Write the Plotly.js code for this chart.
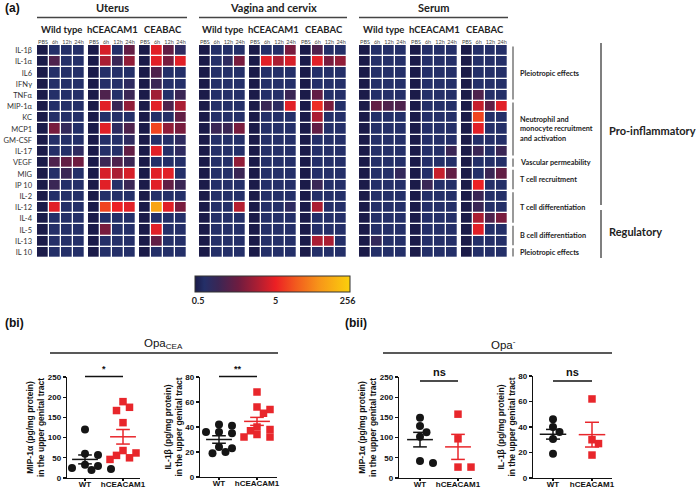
<!DOCTYPE html>
<html><head><meta charset="utf-8">
<script src="https://cdn.plot.ly/plotly-3.0.1.min.js"></script>
<style>html,body{margin:0;padding:0;background:#fff}#plot{width:696px;height:490px}</style>
</head><body><div id="plot"></div>
<script>
// ---------------- DATA ----------------
const cytokines = ['IL-1β','IL-1α','IL6','IFNγ','TNFα','MIP-1α','KC','MCP1','GM-CSF','IL-17','VEGF','MIG','IP 10','IL-2','IL-12','IL-4','IL-5','IL-13','IL 10'];
const timepoints = ['PBS','6h','12h','24h'];
const tissues = ['Uterus','Vagina and cervix','Serum'];
const genotypes = ['Wild type','hCEACAM1','CEABAC'];
const colorbarTickText = ['0.5','5','256'];

// relative intensity levels (position on the colour bar, 0..1) per cytokine row x timepoint
const uterusWT = [[0,.06,.06,.06],[0,.2,.06,.06],[0,.06,.06,.06],[0,.06,.06,.06],[0,.06,.06,.06],[0,.06,.06,.06],[0,.06,.06,.06],[0,.3,.12,.06],[0,.06,.06,.06],[0,.06,.06,.1],[0,.2,.25,.28],[0,.06,.15,.06],[0,.15,.06,.06],[0,.06,.06,.06],[0,.5,.06,.06],[0,.06,.06,.06],[0,.06,.06,.06],[0,.06,.06,.06],[0,.06,.06,.06]];
const uterusHC = [[0,.48,.06,.25],[0,.4,.15,.35],[0,.06,.06,.06],[0,.06,.06,.1],[0,.2,.06,.15],[0,.5,.15,.35],[0,.06,.06,.06],[0,.5,.1,.2],[0,.06,.06,.1],[0,.06,.06,.25],[0,.15,.2,.15],[0,.48,.4,.48],[0,.5,.06,.15],[0,.06,.06,.06],[0,.6,.52,.5],[0,.06,.06,.06],[0,.3,.06,.06],[0,.06,.06,.06],[0,.06,.06,.06]];
const uterusCB = [[0,.5,.25,.1],[0,.5,.3,.5],[0,.2,.06,.06],[0,.15,.06,.06],[0,.38,.06,.15],[0,.5,.2,.4],[0,.06,.06,.25],[0,.6,.35,.3],[0,.06,.06,.1],[0,.5,.06,.1],[0,.06,.06,.06],[0,.5,.5,.06],[0,.5,.25,.15],[0,.06,.06,.06],[0,.85,.5,.3],[0,.06,.06,.06],[0,.5,.06,.06],[0,.25,.06,.06],[0,.06,.06,.06]];
const vaginaWT = [[0,.06,.06,.06],[0,.06,.1,.3],[0,.06,.06,.06],[0,.06,.06,.06],[0,.06,.06,.06],[0,.06,.06,.06],[0,.06,.06,.06],[0,.15,.15,.3],[0,.06,.06,.06],[0,.06,.06,.06],[0,.06,.06,.35],[0,.06,.06,.15],[0,.06,.06,.06],[0,.06,.06,.06],[0,.06,.06,.42],[0,.06,.06,.06],[0,.06,.06,.06],[0,.06,.06,.06],[0,.06,.06,.06]];
const vaginaHC = [[0,.06,.06,.3],[0,.5,.4,.48],[0,.06,.06,.06],[0,.06,.06,.06],[0,.06,.06,.15],[0,.15,.1,.5],[0,.06,.06,.06],[0,.06,.06,.06],[0,.06,.06,.06],[0,.06,.06,.06],[0,.06,.06,.06],[0,.06,.06,.06],[0,.06,.06,.06],[0,.06,.06,.06],[0,.06,.06,.1],[0,.06,.06,.06],[0,.06,.06,.06],[0,.06,.06,.06],[0,.06,.06,.06]];
const vaginaCB = [[0,.2,.06,.06],[0,.5,.3,.35],[0,.06,.06,.06],[0,.06,.06,.06],[0,.25,.06,.06],[0,.55,.3,.06],[0,.4,.06,.06],[0,.25,.06,.06],[0,.06,.06,.06],[0,.06,.06,.06],[0,.06,.06,.06],[0,.06,.06,.06],[0,.15,.06,.06],[0,.06,.06,.06],[0,.4,.06,.06],[0,.06,.06,.06],[0,.06,.06,.06],[0,.4,.4,.06],[0,.06,.06,.06]];
const serumWT = [[0,.06,.06,.06],[0,.06,.06,.06],[0,.06,.06,.06],[0,.06,.06,.06],[0,.06,.06,.06],[0,.25,.2,.2],[0,.06,.06,.06],[0,.06,.06,.06],[0,.06,.06,.06],[0,.06,.06,.06],[0,.06,.06,.06],[0,.06,.06,.12],[0,.06,.06,.06],[0,.06,.06,.06],[0,.06,.06,.06],[0,.06,.06,.06],[0,.06,.06,.06],[0,.12,.06,.06],[0,.06,.06,.06]];
const serumHC = [[0,.06,.06,.06],[0,.06,.06,.06],[0,.06,.06,.06],[0,.06,.06,.06],[0,.06,.06,.06],[0,.06,.06,.06],[0,.06,.06,.06],[0,.06,.06,.06],[0,.06,.06,.06],[0,.06,.06,.15],[0,.06,.06,.06],[0,.06,.45,.25],[0,.15,.06,.06],[0,.06,.06,.06],[0,.06,.06,.06],[0,.06,.06,.06],[0,.06,.06,.06],[0,.06,.06,.06],[0,.06,.06,.06]];
const serumCB = [[0,.06,.06,.06],[0,.06,.06,.06],[0,.06,.06,.06],[0,.06,.06,.06],[0,.2,.06,.06],[0,.45,.25,.5],[0,.6,.06,.06],[0,.5,.06,.06],[0,.06,.06,.06],[0,.15,.06,.15],[0,.06,.06,.06],[0,.06,.15,.25],[0,.52,.06,.06],[0,.15,.06,.06],[0,.15,.06,.06],[0,.4,.2,.3],[0,.5,.06,.06],[0,.06,.06,.06],[0,.06,.06,.06]];

const groups = ['WT','hCEACAM1'];
// (bi) Opa_CEA
const mip_cea_wt = [120, 60, 57, 33, 30, 25, 22, 20];
const mip_cea_hc = [189, 175, 167, 137, 68, 62, 56, 50, 46, 45];
const il1b_cea_wt = [42, 41, 36, 35, 36, 24, 23, 20, 19];
const il1b_cea_hc = [68, 56, 54, 51, 40, 38, 37, 34, 32, 32];
// (bii) Opa-
const mip_neg_wt = [149, 129, 113, 102, 42, 37];
const mip_neg_hc = [158, 97, 27, 27];
const il1b_neg_wt = [46, 40, 36, 30.5, 19];
const il1b_neg_hc = [62, 30, 27, 18];
// means and SEM
const mean_mip_cea = [46, 102], sem_mip_cea = [11, 18];
const mean_il1b_cea = [30, 44.5], sem_il1b_cea = [3, 3.2];
const mean_mip_neg = [95, 77], sem_mip_neg = [18, 31];
const mean_il1b_neg = [34.3, 34], sem_il1b_neg = [3.8, 9.7];
const sigLabels = ['*','**','ns','ns'];

// ---------------- LAYOUT HELPERS ----------------
const W = 696, H = 490;
const X = px => px / W, Y = py => 1 - py / H;
const data = [], annotations = [], shapes = [];
const layout = {width: W, height: H, margin: {l:0,r:0,t:0,b:0}, paper_bgcolor:'#fff', plot_bgcolor:'#fff', showlegend:false,
  coloraxis: {cmin:0, cmax:1,
    colorscale: [[0,'#1b1b49'],[0.06,'#242f68'],[0.15,'#3a2655'],[0.28,'#6e1c40'],[0.4,'#aa1e33'],[0.52,'#ec2024'],[0.65,'#f25a1e'],[0.8,'#f79519'],[1,'#fbd00c']],
    colorbar: {orientation:'h', x: X(272.5), xanchor:'center', y: Y(276), yanchor:'top', len: 155/W, lenmode:'fraction', thickness:16,
      outlinewidth:1, outlinecolor:'#333', tickvals:[0.02,0.52,0.985], ticktext: colorbarTickText, ticks:'', tickfont:{family:'Lato, Open Sans, sans-serif', size:9, color:'#222', weight:'bold'}, ypad:0, xpad:0}}
};
function ann(text, px, py, o={}) {
  annotations.push(Object.assign({text, x:X(px), y:Y(py), xref:'paper', yref:'paper', showarrow:false,
    xanchor:'center', yanchor:'middle', font:{family:'Lato, Open Sans, sans-serif', size:9, color:'#222'}}, o));
}
function hline(x0,x1,py,color='#333',w=1.5){shapes.push({type:'line',xref:'paper',yref:'paper',x0:X(x0),x1:X(x1),y0:Y(py),y1:Y(py),line:{color,width:w}});}
function vline(px,y0,y1,color='#777',w=1.5){shapes.push({type:'line',xref:'paper',yref:'paper',x0:X(px),x1:X(px),y0:Y(y0),y1:Y(y1),line:{color,width:w}});}
const hfont = (size, w='bold') => ({family:'Lato, Open Sans, sans-serif', size, color:'#222', weight:w});

// ---------------- HEATMAPS ----------------
const panels = [[uterusWT,uterusHC,uterusCB],[vaginaWT,vaginaHC,vaginaCB],[serumWT,serumHC,serumCB]];
const panelPx = [[[37,85],[88,136],[139,187]],[[199,246],[249,297],[300,347]],[[359,407],[410,458],[461,508]]];
const gridTop = 45, gridBot = 258;
let ax = 1;
panels.forEach((row, t) => {
  row.forEach((z, g) => {
    const [x0, x1] = panelPx[t][g];
    const sfx = ax===1?'':ax;
    data.push({type:'heatmap', z, x: timepoints, y: cytokines, coloraxis:'coloraxis', xgap:1.3, ygap:1.3,
      xaxis:'x'+sfx, yaxis:'y'+sfx, hoverinfo:'skip'});
    layout['xaxis'+sfx] = {domain:[X(x0),X(x1)], anchor:'y'+sfx, side:'top', showgrid:false, zeroline:false, showline:false, ticks:'',
      tickangle:0, tickfont:{family:'Lato, Open Sans, sans-serif', size:5.5, color:'#444'}, ticklabelstandoff:-1, fixedrange:true};
    layout['yaxis'+sfx] = {domain:[Y(gridBot),Y(gridTop)], anchor:'x'+sfx, autorange:'reversed', showgrid:false, zeroline:false, showline:false, ticks:'',
      showticklabels: ax===1, tickfont:{family:'Lato, Open Sans, sans-serif', size:7.5, color:'#333'}, ticklabelstandoff:4, fixedrange:true};
    ann(genotypes[g], (x0+x1)/2, 29, {font:hfont(9.5)});
    ax++;
  });
  const l = panelPx[t][0][0], r = panelPx[t][2][1];
  ann(tissues[t], (l+r)/2, 7.5, {font:hfont(11)});
  hline(l, r, 17.5, '#444', 1.5);
});
ann('(a)', 3, 8, {xanchor:'left', font:{family:'Liberation Sans, Arial, sans-serif', size:12, color:'#111', weight:'bold'}});

// category brackets on the right
const rowH = (gridBot-gridTop)/cytokines.length;
const cats = [[0,4,'Pleiotropic effects'],[5,9,'Neutrophil and<br>monocyte recruitment<br>and activation'],[10,10,'Vascular permeability'],[11,12,'T cell recruitment'],[13,15,'T cell differentiation'],[16,17,'B cell differentiation'],[18,18,'Pleiotropic effects']];
cats.forEach(([a,b,txt]) => {
  const y0 = gridTop + a*rowH + 1.5, y1 = gridTop + (b+1)*rowH - 1.5;
  vline(513, y0, y1, '#777', 1.5);
  ann(txt, 518, (y0+y1)/2, {xanchor:'left', align:'left', font:hfont(7.3)});
});
vline(601, 43, 205, '#555', 1.5);
vline(601, 210, 258, '#555', 1.5);
ann('Pro-inflammatory', 607, 130, {xanchor:'left', font:hfont(11)});
ann('Regulatory', 607, 231, {xanchor:'left', font:hfont(11)});

// ---------------- SCATTER PLOTS ----------------
const scat = [
  {wt:mip_cea_wt, hc:mip_cea_hc, mean:mean_mip_cea, sem:sem_mip_cea, xpx:[67,140], ypx:[377,478], wtPx:85, unit:38, yr:[0,250], dt:50, title:'MIP-1α (pg/mg protein)<br>in the upper genital tract'},
  {wt:il1b_cea_wt, hc:il1b_cea_hc, mean:mean_il1b_cea, sem:sem_il1b_cea, xpx:[200,277], ypx:[377,477], wtPx:219, unit:38, yr:[0,80], dt:20, title:'IL-1β (pg/mg protein)<br>in the upper genital tract'},
  {wt:mip_neg_wt, hc:mip_neg_hc, mean:mean_mip_neg, sem:sem_mip_neg, xpx:[399,472], ypx:[377,478], wtPx:420, unit:38, yr:[0,250], dt:50, title:'MIP-1α (pg/mg protein)<br>in the upper genital tract'},
  {wt:il1b_neg_wt, hc:il1b_neg_hc, mean:mean_il1b_neg, sem:sem_il1b_neg, xpx:[533,612], ypx:[376,478], wtPx:553, unit:39, yr:[0,80], dt:20, title:'IL-1β (pg/mg protein)<br>in the upper genital tract'}
];
const boldArial = (size, color='#111') => ({family:'Liberation Sans, Arial, sans-serif', size, color, weight:'bold'});
function swarm(vals, center, pxPerY, unit) {
  const placed = [];
  const order = vals.map((v,i)=>i).sort((a,b)=>vals[b]-vals[a]);
  const res = new Array(vals.length);
  order.forEach(i => {
    const yp = vals[i]*pxPerY;
    const cands = [0,1,-1,2,-2,3,-3,4,-4];
    for (const k of cands) {
      const xp = k*6.5;
      if (placed.every(p => Math.hypot(p[0]-xp, p[1]-yp) >= 7.5)) { placed.push([xp,yp]); res[i] = center + xp/unit; break; }
    }
    if (res[i] === undefined) res[i] = center;
  });
  return res;
}
scat.forEach((s, k) => {
  const n = ax;
  const xs = 'x'+n, ys = 'y'+n;
  const pxPerY = (s.ypx[1]-s.ypx[0])/(s.yr[1]-s.yr[0]);
  const xlo = (s.xpx[0]-s.wtPx)/s.unit, xhi = (s.xpx[1]-s.wtPx)/s.unit;
  layout['xaxis'+n] = {domain:[X(s.xpx[0]),X(s.xpx[1])], anchor:ys, range:[xlo,xhi], tickvals:[0,1], ticktext:groups, showgrid:false, zeroline:false,
    showline:true, linecolor:'#111', linewidth:1.3, ticks:'outside', ticklen:2, tickcolor:'#111', tickwidth:1.3, tickfont:boldArial(8), ticklabelstandoff:-4, fixedrange:true};
  layout['yaxis'+n] = {domain:[Y(s.ypx[1]),Y(s.ypx[0])], anchor:xs, range:s.yr, dtick:s.dt, showgrid:false, zeroline:false,
    showline:true, linecolor:'#111', linewidth:1.3, ticks:'outside', ticklen:3, tickcolor:'#111', tickwidth:1.3, tickfont:boldArial(8),
    title:{text:s.title, font:boldArial(8.5), standoff:1}, fixedrange:true};
  const groupsVals = [s.wt, s.hc];
  groupsVals.forEach((vals, g) => {
    data.push({type:'scatter', mode:'markers', x: swarm(vals, g, pxPerY, s.unit), y: vals, xaxis:xs, yaxis:ys, cliponaxis:false,
      marker: g===0 ? {symbol:'circle', size:8, color:'#151515'} : {symbol:'square', size:7.5, color:'#e8262b'}, hoverinfo:'skip'});
    const m = s.mean[g], e = s.sem[g];
    const lx = [g-0.34,g+0.34,null,g,g,null,g-0.18,g+0.18,null,g-0.18,g+0.18];
    const ly = [m,m,null,m-e,m+e,null,m+e,m+e,null,m-e,m-e];
    data.push({type:'scatter', mode:'lines', x:lx, y:ly, xaxis:xs, yaxis:ys, line:{color: g===0?'#151515':'#e8262b', width:1.5}, hoverinfo:'skip', connectgaps:false});
  });
  // significance bracket
  const lineY = k<2 ? 376.5 : 381;
  shapes.push({type:'line', xref:xs, yref:'paper', x0:0, x1:1, y0:Y(lineY), y1:Y(lineY), line:{color:'#111', width:1.3}});
  annotations.push({text:sigLabels[k], xref:xs, yref:'paper', x:0.5, y:Y(lineY-1), yanchor:'bottom', showarrow:false, font:boldArial(k<2?9:11)});
  ax++;
});
hline(50, 278, 353, '#222', 1.5);
hline(383, 612, 353, '#222', 1.5);
ann('Opa<sub>CEA</sub>', 163, 344, {font:{family:'Liberation Sans, Arial, sans-serif', size:11.5, color:'#111'}});
ann('Opa<sup>-</sup>', 503, 344, {font:{family:'Liberation Sans, Arial, sans-serif', size:11.5, color:'#111'}});
ann('(bi)', 3, 323, {xanchor:'left', font:boldArial(12)});
ann('(bii)', 343, 323, {xanchor:'left', font:boldArial(12)});

layout.annotations = annotations;
layout.shapes = shapes;
Plotly.newPlot('plot', data, layout, {displayModeBar:false, staticPlot:true});
</script></body></html>
